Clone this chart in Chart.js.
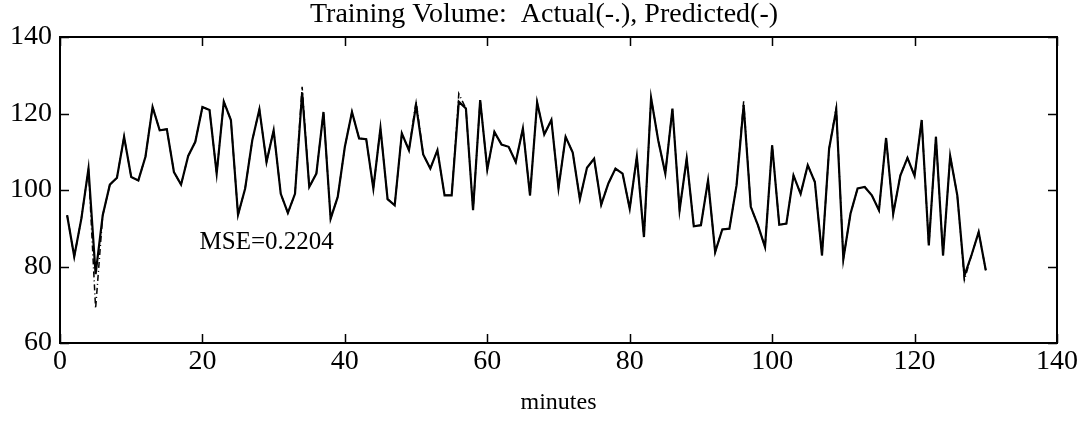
<!DOCTYPE html>
<html>
<head>
<meta charset="utf-8">
<script src="https://cdn.jsdelivr.net/npm/chart.js@4.4.1/dist/chart.umd.min.js"></script>
<style>
  html, body { margin: 0; padding: 0; background: #fff; }
  #wrap { width: 1088px; height: 425px; }
</style>
</head>
<body>
<div id="wrap"><canvas id="c" width="1088" height="425"></canvas></div>
<script>
const titleText = "Training Volume:  Actual(-.), Predicted(-)";
const xAxisTitle = "minutes";
const mseLabel = "MSE=0.2204";
const mseAt = [19.6, 86.4];
const xTicks = [0, 20, 40, 60, 80, 100, 120, 140];
const yTicks = [60, 80, 100, 120, 140];

const minutes = [1,2,3,4,5,6,7,8,9,10,11,12,13,14,15,16,17,18,19,20,
  21,22,23,24,25,26,27,28,29,30,31,32,33,34,35,36,37,38,39,40,
  41,42,43,44,45,46,47,48,49,50,51,52,53,54,55,56,57,58,59,60,
  61,62,63,64,65,66,67,68,69,70,71,72,73,74,75,76,77,78,79,80,
  81,82,83,84,85,86,87,88,89,90,91,92,93,94,95,96,97,98,99,100,
  101,102,103,104,105,106,107,108,109,110,111,112,113,114,115,116,117,118,119,120,
  121,122,123,124,125,126,127,128,129,130];

const predicted = [93.4,82.6,92.5,105.6,78,93.4,101.4,103.2,113.9,103.4,
  102.5,108.7,121.7,115.6,115.9,104.7,101.4,108.9,112.6,121.7,
  120.9,104.3,123.1,118.3,93.5,100.4,113,121.1,107.3,115.6,
  99,94,99,125.5,100.8,104.3,120.4,92.5,98.2,111.3,
  120.4,113.5,113.3,100.4,116.2,97.6,96,114.8,110.4,122.2,
  109.3,105.6,110.4,98.6,98.6,123.1,121.3,94.7,123.5,105.4,
  115.2,111.9,111.3,107.3,116.1,98.6,122.9,114.5,118.3,100.5,
  113.9,109.8,97.6,105.8,108.2,96.2,101.7,105.6,104.3,95.1,
  108.7,87.7,124.1,113,104.3,121.3,94.7,108.2,90.5,90.8,
  102.5,83.8,89.7,89.9,101.2,122.2,95.6,90.8,85.1,111.7,
  90.9,91.2,103.8,99,106.5,102.1,82.9,110.8,121,82,
  93.8,100.4,100.8,98.6,94.7,113.6,93.8,103.8,108.4,103.7,
  118.3,85.5,113.9,82.9,108.9,98.6,77.6,83,89,79];

const actual = [93.4,82.6,92.5,105.6,69,93.4,101.4,103.2,113.9,103.4,
  102.5,108.7,121.7,115.6,115.9,104.7,101.4,108.9,112.6,121.7,
  120.9,104.3,123.1,118.3,93.5,100.4,113,121.1,107.3,115.6,
  99,94,99,127,100.8,104.3,120.4,92.5,98.2,111.3,
  120.4,113.5,113.3,100.4,116.2,97.6,96,114.8,110.4,123.2,
  109.3,105.6,110.4,98.6,98.6,125.2,121.3,94.7,123.5,105.4,
  115.2,111.9,111.3,107.3,116.1,98.6,122.9,114.5,118.3,100.5,
  113.9,109.8,97.6,105.8,108.2,96.2,101.7,105.6,104.3,95.1,
  108.7,87.7,124.1,113,104.3,121.3,94.7,108.2,90.5,90.8,
  102.5,83.8,89.7,89.9,101.2,123.2,95.6,90.8,85.1,111.7,
  90.9,91.2,103.8,99,106.5,102.1,82.9,110.8,121.5,82,
  93.8,100.4,100.8,98.6,94.7,113.6,93.8,103.8,108.4,103.7,
  118.3,85.5,113.9,82.9,108.9,98.6,76.5,83,89,79];

const SERIF = "'Liberation Serif', 'Times New Roman', serif";

const framePlugin = {
  id: 'frame',
  afterDatasetsDraw(chart) {
    const {ctx, chartArea: a, scales: {x, y}} = chart;
    ctx.save();
    ctx.strokeStyle = '#000';
    ctx.lineWidth = 2;
    ctx.strokeRect(a.left, a.top, a.right - a.left, a.bottom - a.top);
    const len = 9;
    ctx.beginPath();
    xTicks.forEach(v => {
      const px = Math.round(x.getPixelForValue(v)) + 0.5;
      ctx.moveTo(px, a.bottom); ctx.lineTo(px, a.bottom - len);
      ctx.moveTo(px, a.top); ctx.lineTo(px, a.top + len);
    });
    yTicks.forEach(v => {
      const py = Math.round(y.getPixelForValue(v)) + 0.5;
      ctx.moveTo(a.left, py); ctx.lineTo(a.left + len, py);
      ctx.moveTo(a.right, py); ctx.lineTo(a.right - len, py);
    });
    ctx.lineWidth = 1.5;
    ctx.stroke();
    ctx.fillStyle = '#000';
    ctx.font = "25px " + SERIF;
    ctx.textAlign = 'left';
    ctx.textBaseline = 'middle';
    ctx.fillText(mseLabel, x.getPixelForValue(mseAt[0]), y.getPixelForValue(mseAt[1]));
    ctx.restore();
  }
};

new Chart(document.getElementById('c'), {
  type: 'line',
  data: {
    datasets: [
      {
        label: 'Actual',
        data: minutes.map((m, i) => ({x: m, y: actual[i]})),
        borderColor: '#000',
        borderWidth: 1.5,
        borderDash: [6, 3, 1, 3],
        pointRadius: 0,
        tension: 0,
        fill: false,
        yAxisID: 'y'
      },
      {
        label: 'Predicted',
        data: minutes.map((m, i) => ({x: m, y: predicted[i]})),
        borderColor: '#000',
        borderWidth: 2.2,
        pointRadius: 0,
        tension: 0,
        fill: false,
        yAxisID: 'y'
      }
    ]
  },
  options: {
    responsive: false,
    animation: false,
    devicePixelRatio: 1,
    layout: { padding: 0 },
    plugins: {
      legend: { display: false },
      tooltip: { enabled: false },
      title: {
        display: true,
        text: titleText,
        color: '#000',
        font: { family: SERIF, size: 28, weight: 'normal', lineHeight: 1 },
        padding: { top: 1, bottom: 8 }
      }
    },
    scales: {
      x: {
        type: 'linear',
        min: 0, max: 140,
        afterBuildTicks: s => { s.ticks = xTicks.map(v => ({value: v})); },
        afterFit: s => { s.height = 82; },
        ticks: { color: '#000', font: { family: SERIF, size: 28 }, padding: 2, maxRotation: 0 },
        grid: { display: false, drawTicks: false },
        border: { display: true, color: '#000', width: 2 },
        title: {
          display: true, text: xAxisTitle, color: '#000',
          font: { family: SERIF, size: 24, lineHeight: 1.2 },
          padding: { top: 0, bottom: 8 }
        }
      },
      y: {
        type: 'linear',
        position: 'left',
        min: 60, max: 140,
        afterBuildTicks: s => { s.ticks = yTicks.map(v => ({value: v})); },
        afterFit: s => { s.width = 60; },
        ticks: { color: '#000', font: { family: SERIF, size: 28 }, padding: 8 },
        grid: { display: false, drawTicks: false },
        border: { display: true, color: '#000', width: 2 }
      },
      yRight: {
        type: 'linear',
        position: 'right',
        min: 60, max: 140,
        afterFit: s => { s.width = 31; },
        ticks: { display: false },
        grid: { display: false, drawTicks: false },
        border: { display: false }
      }
    }
  },
  plugins: [framePlugin]
});
</script>
</body>
</html>
